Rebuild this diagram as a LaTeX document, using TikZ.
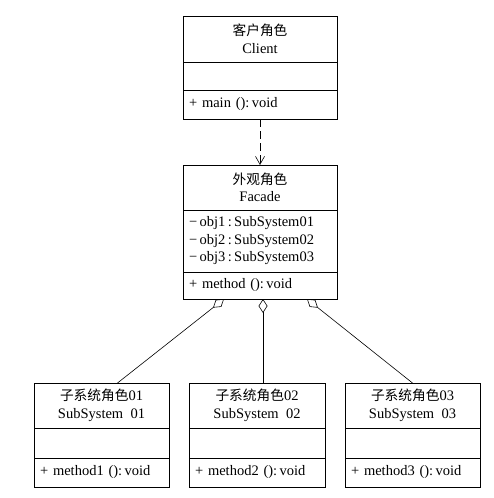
\documentclass[tikz,border=0pt]{standalone}
\usepackage{fontspec}
\setmainfont{Liberation Serif}
\newfontfamily\cjk{Noto Sans CJK SC}
\newcommand\zh[1]{{\cjk\fontsize{13.7}{17.5}\selectfont #1}}
\usetikzlibrary{arrows.meta,positioning}

\tikzset{
  part/.style={draw, line width=0.8pt, fill=white, anchor=north west,
    inner sep=0pt, outer sep=0pt, font=\fontsize{14.5}{17.5}\selectfont},
  namepart/.style={part, align=center},
  listpart/.style={part, align=left, text width=#1, inner xsep=6pt},
  dep/.style={line width=0.6pt, dash pattern=on 8pt off 4pt,
    -{Straight Barb[length=8pt,width=9pt]}},
  agg/.style={line width=0.6pt, {Diamond[open,length=14pt,width=9pt]}-},
}

\begin{document}
\begin{tikzpicture}[x=1pt,y=-1pt]
\useasboundingbox (0,0) rectangle (493,498);

% client
\node[namepart, minimum width=154, minimum height=46] (client) at (183,16) {\zh{客户角色}\\Client};
\node[part, minimum width=154, minimum height=28] (clientattr) at (client.south west) {};
\node[listpart=142pt, minimum height=29] (clientop) at (clientattr.south west) {+ main ():\,void};

% facade
\node[namepart, minimum width=154, minimum height=45] (facade) at (183,165) {\zh{外观角色}\\Facade};
\node[listpart=142pt, minimum height=62] (facadeattr) at (facade.south west) {−\,obj1\,:\,SubSystem01\\−\,obj2\,:\,SubSystem02\\−\,obj3\,:\,SubSystem03};
\node[listpart=142pt, minimum height=27] (facadeop) at (facadeattr.south west) {+ method ():\,void};

% subsystems
\node[namepart, minimum width=135, minimum height=45] (sub1) at (34,383) {\zh{子系统角色}01\\SubSystem\ \ 01};
\node[part, minimum width=135, minimum height=30] (sub1attr) at (sub1.south west) {};
\node[listpart=123pt, minimum height=29] (sub1op) at (sub1attr.south west) {+ method1 ():\,void};

\node[namepart, minimum width=136, minimum height=45] (sub2) at (189,383) {\zh{子系统角色}02\\SubSystem\ \ 02};
\node[part, minimum width=136, minimum height=30] (sub2attr) at (sub2.south west) {};
\node[listpart=124pt, minimum height=29] (sub2op) at (sub2attr.south west) {+ method2 ():\,void};

\node[namepart, minimum width=135, minimum height=45] (sub3) at (345,383) {\zh{子系统角色}03\\SubSystem\ \ 03};
\node[part, minimum width=135, minimum height=30] (sub3attr) at (sub3.south west) {};
\node[listpart=123pt, minimum height=29] (sub3op) at (sub3attr.south west) {+ method3 ():\,void};

% links
\draw[dep] (clientop.south) -- (facade.north);

\coordinate (agg1) at (224,299);
\coordinate (agg2) at (263,299);
\coordinate (agg3) at (307,299);
\draw[agg] (agg1) -- ([xshift=16pt]sub1.north);
\draw[agg] (agg2) -- (agg2 |- sub2.north);
\draw[agg] (agg3) -- (sub3.north);

\end{tikzpicture}
\end{document}
